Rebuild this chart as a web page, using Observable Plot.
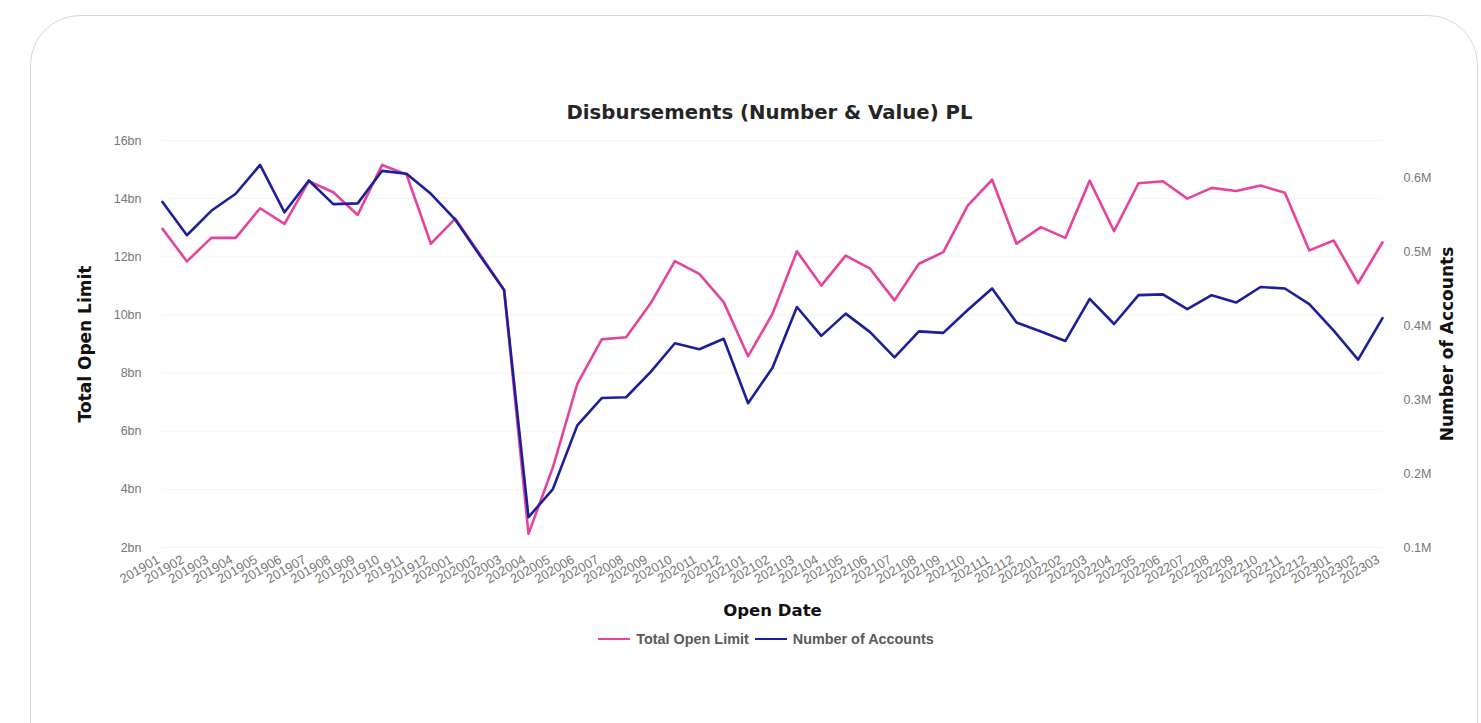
<!DOCTYPE html>
<html>
<head>
<meta charset="utf-8">
<script src="https://cdn.jsdelivr.net/npm/d3@7"></script>
<script src="https://cdn.jsdelivr.net/npm/@observablehq/plot@0.6"></script>
<style>
  html, body { margin: 0; padding: 0; background: #fff; }
  body { width: 1481px; height: 723px; overflow: hidden; position: relative; font-family: "Liberation Sans", Arial, sans-serif; }
  #card { position: absolute; left: 30px; top: 15px; width: 1448px; height: 820px; border: 1px solid #d6d6d6; border-radius: 50px; box-sizing: border-box; }
  #title { position: absolute; left: 0; width: 1539px; top: 101px; text-align: center; font-family: "DejaVu Sans", sans-serif; font-weight: bold; font-size: 19.7px; color: #252525; line-height: 24px; }
  #chart { position: absolute; left: 0; top: 130px; }
  #legend { position: absolute; left: 0; width: 1532px; top: 626px; text-align: center; font-size: 14.4px; font-weight: bold; color: #5a5a5a; line-height: 18px; }
  #legend .item { display: inline-flex; align-items: center; margin: 0 3px; }
  #legend .sw { display: inline-block; width: 32px; height: 2px; margin-right: 6px; }
</style>
</head>
<body>
<div id="card"></div>
<div id="title">Disbursements (Number &amp; Value) PL</div>
<div id="chart"></div>
<div id="legend"></div>
<script>
// ---- data ----
const months = [
  "201901","201902","201903","201904","201905","201906","201907","201908","201909","201910","201911","201912",
  "202001","202002","202003","202004","202005","202006","202007","202008","202009","202010","202011","202012",
  "202101","202102","202103","202104","202105","202106","202107","202108","202109","202110","202111","202112",
  "202201","202202","202203","202204","202205","202206","202207","202208","202209","202210","202211","202212",
  "202301","202302","202303"
];
// Total Open Limit, in bn
const totalOpenLimit = [
  12.96, 11.84, 12.65, 12.65, 13.67, 13.13, 14.60, 14.22, 13.44, 15.16,
  14.83, 12.45, 13.31, 12.10, 10.86, 2.47, 4.76, 7.63, 9.16, 9.23,
  10.39, 11.85, 11.41, 10.44, 8.58, 10.04, 12.19, 11.01, 12.04, 11.59,
  10.50, 11.76, 12.16, 13.76, 14.65, 12.45, 13.02, 12.65, 14.62, 12.88,
  14.53, 14.60, 14.00, 14.37, 14.26, 14.45, 14.20, 12.22, 12.56, 11.09, 12.50
];
// Number of Accounts, in M
const numberOfAccounts = [
  0.567, 0.522, 0.555, 0.578, 0.617, 0.553, 0.596, 0.564, 0.565, 0.609,
  0.605, 0.578, 0.543, 0.495, 0.448, 0.141, 0.179, 0.265, 0.302, 0.303,
  0.337, 0.376, 0.368, 0.382, 0.295, 0.343, 0.425, 0.386, 0.416, 0.391,
  0.357, 0.392, 0.390, 0.421, 0.450, 0.404, 0.392, 0.379, 0.436, 0.402,
  0.441, 0.442, 0.422, 0.441, 0.431, 0.452, 0.450, 0.429, 0.393, 0.354, 0.410
];
const leftTicks = [2, 4, 6, 8, 10, 12, 14, 16];
const rightTicks = [0.1, 0.2, 0.3, 0.4, 0.5, 0.6];
const leftDomain = [2, 16];
const rightDomain = [0.1, 0.65];

const pink = "#e6449b";
const blue = "#1b1f9c";

const data = months.map((m, i) => ({idx: i, month: m, limit: totalOpenLimit[i], accounts: numberOfAccounts[i]}));

// map the right-axis (M) values into the left-axis (bn) space
const toLeft = v => leftDomain[0] + (v - rightDomain[0]) * (leftDomain[1] - leftDomain[0]) / (rightDomain[1] - rightDomain[0]);
const fromLeft = y => rightDomain[0] + (y - leftDomain[0]) * (rightDomain[1] - rightDomain[0]) / (leftDomain[1] - leftDomain[0]);

const W = 1481, ML = 162, MR = 99;
const chart = Plot.plot({
  width: W,
  height: 500,
  marginLeft: ML,
  marginRight: MR,
  marginTop: 10,
  marginBottom: 83,
  style: {fontFamily: '"Liberation Sans", Arial, sans-serif', fontSize: "12.5px", color: "#777", background: "transparent", overflow: "visible"},
  x: {type: "linear", domain: [0, months.length - 1]},
  y: {domain: leftDomain},
  marks: [
    Plot.gridY(leftTicks, {stroke: "#f4f4f4", strokeOpacity: 1}),
    Plot.axisY({anchor: "left", ticks: leftTicks, tickFormat: d => d + "bn", tickSize: 0, tickPadding: 21, label: null, fontSize: 12.5}),
    Plot.axisY({anchor: "right", ticks: rightTicks.map(toLeft), tickFormat: d => fromLeft(d).toFixed(1) + "M", tickSize: 0, tickPadding: 21, label: null, fontSize: 12.5}),
    Plot.axisX({ticks: d3.range(months.length), tickFormat: i => months[i], tickRotate: -30, tickSize: 0, tickPadding: 11, dx: -4, label: null, fontSize: 13}),
    Plot.line(data, {x: "idx", y: "limit", stroke: pink, strokeWidth: 2.6}),
    Plot.line(data, {x: "idx", y: d => toLeft(d.accounts), stroke: blue, strokeWidth: 2.6}),
    Plot.text(["Total Open Limit"], {frameAnchor: "left", dx: -77, rotate: -90, textAnchor: "middle", fontSize: 17, fontWeight: "bold", fill: "#111", fontFamily: "DejaVu Sans"}),
    Plot.text(["Number of Accounts"], {frameAnchor: "right", dx: 65, rotate: -90, textAnchor: "middle", fontSize: 17, fontWeight: "bold", fill: "#111", fontFamily: "DejaVu Sans"}),
    Plot.text(["Open Date"], {frameAnchor: "bottom", dy: 68, textAnchor: "middle", fontSize: 16.5, fontWeight: "bold", fill: "#111", fontFamily: "DejaVu Sans"})
  ]
});
document.getElementById("chart").appendChild(chart);

// legend
const legendItems = [["Total Open Limit", pink], ["Number of Accounts", blue]];
const legend = document.getElementById("legend");
for (const [name, color] of legendItems) {
  const item = document.createElement("span");
  item.className = "item";
  const sw = document.createElement("span");
  sw.className = "sw";
  sw.style.background = color;
  item.appendChild(sw);
  item.appendChild(document.createTextNode(name));
  legend.appendChild(item);
}
</script>
</body>
</html>
